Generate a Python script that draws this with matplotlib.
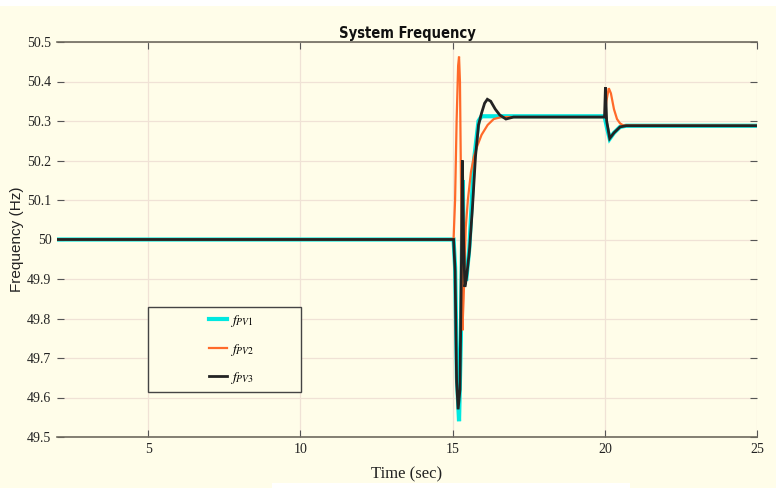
import matplotlib
matplotlib.use("Agg")
import matplotlib.pyplot as plt
from matplotlib.patches import Rectangle

# ---- data ----
t_pv1 = [2.0, 15.03, 15.08, 15.14, 15.21, 15.27, 15.33, 15.38, 15.45, 15.55,
         15.70, 15.85, 15.95, 16.2, 19.99, 20.08, 20.16, 20.3, 20.5, 20.7, 25.0]
f_pv1 = [50.0, 50.0, 49.93, 49.65, 49.54, 49.75, 50.15, 49.90, 49.90, 49.98,
         50.20, 50.30, 50.312, 50.312, 50.312, 50.28, 50.255, 50.27, 50.285, 50.288, 50.288]

t_pv2 = [2.0, 15.03, 15.08, 15.13, 15.18, 15.21, 15.24, 15.28, 15.32, 15.36,
         15.43, 15.5, 15.6, 15.7, 15.8, 15.95, 16.15, 16.35, 16.6, 16.9,
         20.0, 20.05, 20.13, 20.2, 20.3, 20.4, 20.5, 20.6, 25.0]
f_pv2 = [50.0, 50.0, 50.10, 50.30, 50.44, 50.463, 50.40, 50.10, 49.77, 49.85,
         50.03, 50.10, 50.17, 50.21, 50.235, 50.265, 50.29, 50.305, 50.31, 50.31,
         50.31, 50.35, 50.383, 50.37, 50.33, 50.305, 50.294, 50.289, 50.288]

t_pv3 = [2.0, 15.03, 15.08, 15.13, 15.18, 15.24, 15.29, 15.32, 15.36, 15.40,
         15.45, 15.55, 15.65, 15.75, 15.85, 15.95, 16.05, 16.14, 16.25, 16.4,
         16.55, 16.75, 17.0, 19.99, 20.02, 20.06, 20.16, 20.3, 20.5, 20.7, 25.0]
f_pv3 = [50.0, 50.0, 49.92, 49.64, 49.57, 49.62, 49.95, 50.20, 50.0, 49.88,
         49.90, 49.97, 50.08, 50.21, 50.29, 50.32, 50.345, 50.355, 50.35, 50.33,
         50.315, 50.305, 50.31, 50.31, 50.385, 50.30, 50.256, 50.27, 50.285, 50.288, 50.288]

labels = [r"$f_{PV1}$", r"$f_{PV2}$", r"$f_{PV3}$"]
colors = ["#00E8E0", "#FF6A2A", "#232323"]

x_ticks = [5, 10, 15, 20, 25]
x_ticklabels = ["5", "10", "15", "20", "25"]
y_ticks = [49.5, 49.6, 49.7, 49.8, 49.9, 50.0, 50.1, 50.2, 50.3, 50.4, 50.5]
y_ticklabels = ["49.5", "49.6", "49.7", "49.8", "49.9", "50", "50.1", "50.2", "50.3", "50.4", "50.5"]

# ---- figure ----
plt.rcParams["mathtext.fontset"] = "stix"
bg = "#FFFDE9"
fig = plt.figure(figsize=(7.76, 4.88), dpi=100, facecolor=bg)
ax = fig.add_axes([57/776, 51/488, 700/776, 395/488], facecolor=bg)

lines = []
for t, f, c, lw in zip([t_pv1, t_pv2, t_pv3], [f_pv1, f_pv2, f_pv3], colors, [3.0, 1.6, 2.0]):
    ln, = ax.plot(t, f, color=c, lw=lw, solid_joinstyle="miter")
    lines.append(ln)

ax.set_xlim(2.0, 25.0)
ax.set_ylim(49.5, 50.5)
ax.set_xticks(x_ticks)
ax.set_xticklabels(x_ticklabels)
ax.set_yticks(y_ticks)
ax.set_yticklabels(y_ticklabels)
ax.tick_params(direction="in", length=5, width=0.8, color="#555555",
               top=True, right=True, labelsize=10, labelcolor="#222222", pad=4)
for lab in ax.get_xticklabels() + ax.get_yticklabels():
    lab.set_family("Liberation Serif")
ax.grid(True, color="#F0E2D6", lw=0.9)
ax.set_axisbelow(True)
for s in ["left", "right"]:
    ax.spines[s].set_visible(False)
for s in ["top", "bottom"]:
    ax.spines[s].set_color("#6E6A5E")
    ax.spines[s].set_linewidth(1.2)

ax.set_title("System Frequency", fontsize=10.5, fontweight="bold",
             family="DejaVu Sans", fontstretch="condensed", pad=3, color="#111111")
ax.set_xlabel("Time (sec)", fontsize=12, family="Liberation Serif", color="#222222", labelpad=8)
ax.set_ylabel("Frequency (Hz)", fontsize=11, family="Liberation Sans", color="#222222", labelpad=2)

# legend box
box = Rectangle((0.13, 0.114), 0.219, 0.215, transform=ax.transAxes,
                facecolor=bg, edgecolor="#444444", lw=1.0, zorder=5)
ax.add_patch(box)
leg = ax.legend(lines, labels, loc="center", bbox_to_anchor=(0.14, 0.114, 0.219, 0.215),
                frameon=False, fontsize=10, handlelength=1.3, handletextpad=0.2,
                labelspacing=0.9)
leg.set_zorder(6)

# white strips of the scanned image
fig.patches.append(Rectangle((0, 482/488), 1, 6/488, transform=fig.transFigure,
                             facecolor="white", edgecolor="none"))
fig.patches.append(Rectangle((272/776, 0), 358/776, 5/488, transform=fig.transFigure,
                             facecolor="white", edgecolor="none"))

fig.savefig("out.png", dpi=100, facecolor=bg)
